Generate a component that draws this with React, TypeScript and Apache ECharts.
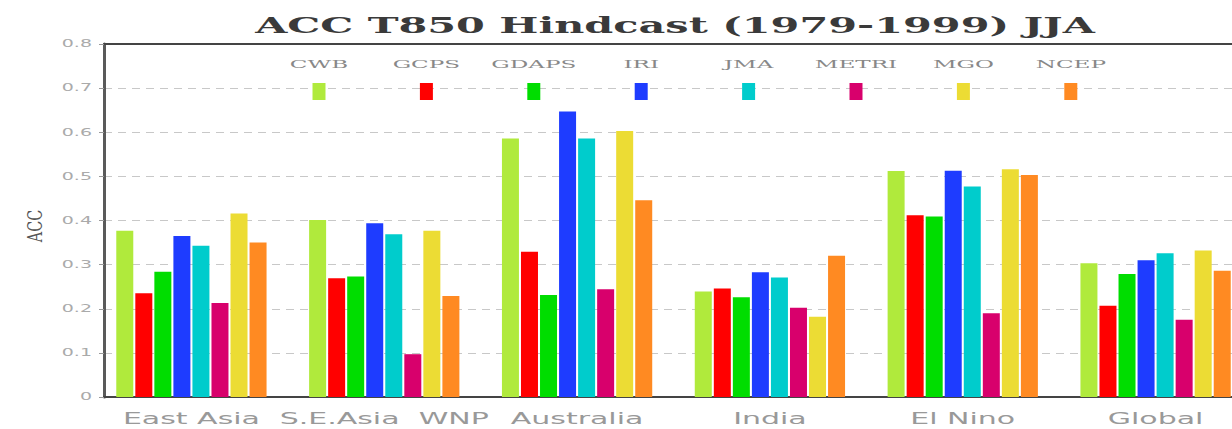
import React, { useEffect, useRef } from "react";
import * as echarts from "echarts";

const titleText = "ACC T850 Hindcast (1979-1999) JJA";
const yName = "ACC";
const categories = ["East Asia", "S.E.Asia  WNP", "Australia", "India", "El Nino", "Global"];
const models = ["CWB", "GCPS", "GDAPS", "IRI", "JMA", "METRI", "MGO", "NCEP"];

const cwb = [0.377, 0.401, 0.586, 0.239, 0.512, 0.303];
const gcps = [0.235, 0.269, 0.329, 0.246, 0.412, 0.207];
const gdaps = [0.284, 0.273, 0.231, 0.226, 0.409, 0.279];
const iri = [0.365, 0.394, 0.647, 0.283, 0.513, 0.31];
const jma = [0.343, 0.369, 0.586, 0.271, 0.477, 0.326];
const metri = [0.213, 0.097, 0.244, 0.202, 0.19, 0.175];
const mgo = [0.416, 0.377, 0.603, 0.182, 0.516, 0.332];
const ncep = [0.35, 0.229, 0.446, 0.32, 0.503, 0.286];

const yTicks = [0, 0.1, 0.2, 0.3, 0.4, 0.5, 0.6, 0.7, 0.8];
const yTickLabels = ["0", "0.1", "0.2", "0.3", "0.4", "0.5", "0.6", "0.7", "0.8"];

const seriesValues = [cwb, gcps, gdaps, iri, jma, metri, mgo, ncep];
const colors = ["#b0ea3c", "#ff0000", "#00dd00", "#1e3cff", "#00cccc", "#d8006c", "#ecdc34", "#ff8a22"];

// layout constants
const W = 1232;
const H = 429;
const GRID_TOP = 44;
const GRID_BOTTOM = 32;
const legendStartX = 319;
const legendStep = 107.4;

function measure(text: string, font: string): number {
  const ctx = document.createElement("canvas").getContext("2d");
  if (!ctx) return text.length * 8;
  ctx.font = font;
  return ctx.measureText(text).width || text.length * 8;
}

function textEl(
  text: string,
  x: number,
  y: number,
  size: number,
  family: string,
  weight: string,
  fill: string,
  align: string,
  scaleX: number,
  rotation = 0
) {
  return {
    type: "text",
    x,
    y,
    scaleX,
    rotation,
    silent: true,
    z: 10,
    style: {
      text,
      fontSize: size,
      fontFamily: family,
      fontWeight: weight,
      fill,
      align,
      verticalAlign: "middle",
      textAlign: align,
      textVerticalAlign: "middle",
    },
  };
}

export default function App() {
  const ref = useRef<HTMLDivElement>(null);

  useEffect(() => {
    document.body.style.margin = "0";
    if (!ref.current) return;
    const chart = echarts.init(ref.current, null, { renderer: "svg" });

    const option: any = {
      animation: false,
      backgroundColor: "#ffffff",
      grid: [
        {
          left: 95,
          width: 1157,
          top: GRID_TOP,
          bottom: GRID_BOTTOM,
          containLabel: false,
          outerBoundsMode: "none",
        },
        {
          left: 104,
          right: 0,
          top: GRID_TOP,
          bottom: GRID_BOTTOM,
          containLabel: false,
          outerBoundsMode: "none",
        },
      ],
      xAxis: [
        {
          type: "category",
          gridIndex: 0,
          data: categories,
          axisLine: { show: false },
          axisTick: { show: false },
          axisLabel: { show: false },
          splitLine: { show: false },
        },
        {
          type: "value",
          gridIndex: 1,
          min: 0,
          max: 1,
          position: "bottom",
          axisLine: { show: true, lineStyle: { color: "#444", width: 2 } },
          axisTick: { show: false },
          axisLabel: { show: false },
          splitLine: { show: false },
        },
        {
          type: "value",
          gridIndex: 1,
          min: 0,
          max: 1,
          position: "top",
          axisLine: { show: true, lineStyle: { color: "#444", width: 2 } },
          axisTick: { show: false },
          axisLabel: { show: false },
          splitLine: { show: false },
        },
      ],
      yAxis: [
        { type: "value", gridIndex: 0, min: 0, max: 0.8, show: false },
        {
          type: "value",
          gridIndex: 1,
          min: 0,
          max: 0.8,
          interval: 0.1,
          axisLine: { show: true, lineStyle: { color: "#5a5a5a", width: 3 } },
          axisTick: { show: true, length: 5, lineStyle: { color: "#999" } },
          axisLabel: { show: false },
          splitLine: { show: true, lineStyle: { color: "#c8c8c8", type: [8, 6], width: 1 } },
        },
      ],
      series: models.map((m, i) => ({
        name: m,
        type: "bar",
        xAxisIndex: 0,
        yAxisIndex: 0,
        data: seriesValues[i],
        barWidth: 17,
        barGap: "12%",
        itemStyle: { color: colors[i] },
        z: 3,
      })),
    };
    chart.setOption(option);

    const graphics: any[] = [];

    // title
    const tFam = '"DejaVu Serif", serif';
    const tSize = 22;
    const tW = measure(titleText, `bold ${tSize}px ${tFam}`);
    graphics.push(textEl(titleText, 675, 25, tSize, tFam, "bold", "#3a3a3a", "center", 840 / tW));

    // y axis name
    const nFam = '"DejaVu Serif", serif';
    graphics.push(textEl(yName, 35, 226, 20, nFam, "normal", "#555", "center", 0.72, Math.PI / 2));

    // y tick labels
    yTicks.forEach((v, i) => {
      const py = chart.convertToPixel({ yAxisIndex: 1 } as any, v) as any;
      graphics.push(textEl(yTickLabels[i], 92, Number(py), 10, '"DejaVu Sans", sans-serif', "normal", "#aaa", "right", 1.9));
    });

    // category labels
    categories.forEach((c) => {
      const px = chart.convertToPixel({ xAxisIndex: 0 } as any, c) as any;
      graphics.push(textEl(c, Number(px), 419, 15, '"DejaVu Sans", sans-serif', "normal", "#999", "center", 2.0));
    });

    // legend
    models.forEach((m, i) => {
      const cx = legendStartX + i * legendStep;
      graphics.push(textEl(m, cx, 64, 11, '"DejaVu Serif", serif', "normal", "#888", "center", 2.1));
      graphics.push({
        type: "rect",
        x: cx - 6.5,
        y: 83,
        silent: true,
        z: 10,
        shape: { x: 0, y: 0, width: 13, height: 17 },
        style: { fill: colors[i] },
      });
    });

    chart.setOption({ graphic: graphics });

    return () => {
      chart.dispose();
    };
  }, []);

  return <div ref={ref} style={{ width: W, height: H }} />;
}
